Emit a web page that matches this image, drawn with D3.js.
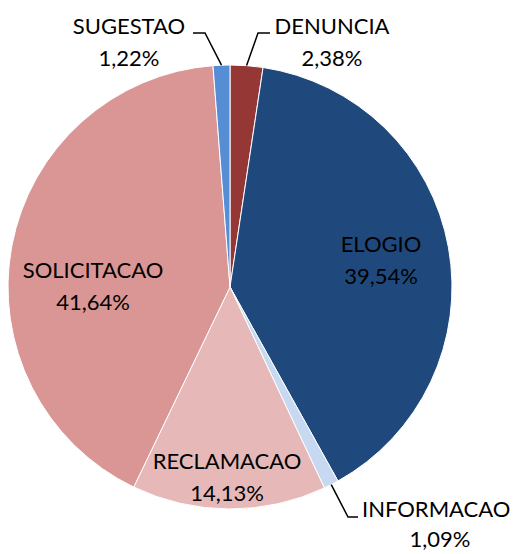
<!DOCTYPE html>
<html>
<head>
<meta charset="utf-8">
<script src="https://cdn.jsdelivr.net/npm/d3@7"></script>
<style>
  body { margin: 0; background: #fff; }
  svg text { font-family: Lato, "Open Sans", sans-serif; fill: #000; }
</style>
</head>
<body>
<div id="chart"></div>
<script>
(function () {

  // data
  var categories = ["DENUNCIA", "ELOGIO", "INFORMACAO", "RECLAMACAO", "SOLICITACAO", "SUGESTAO"];
  var values = [2.38, 39.54, 1.09, 14.13, 41.64, 1.22];
  var valueLabels = ["2,38%", "39,54%", "1,09%", "14,13%", "41,64%", "1,22%"];
  var colors = ["#953735", "#1F497D", "#C6D9F1", "#E6B9B8", "#D99694", "#558ED5"];

  var w = 517, h = 554;
  var cx = 230, cy = 287, r = 222;
  var lineGap = 32;

  // label layout (text centre, and elbow/end of leader lines for outside labels)
  var layout = {
    "DENUNCIA":    { x: 332, y: 26, elbow: [258, 33], end: [270, 33] },
    "ELOGIO":      { x: 381, y: 244 },
    "INFORMACAO":  { x: 440, y: 509, gap: 30, elbow: [348, 517], end: [358, 517], anchor: "start", tx: 362 },
    "RECLAMACAO":  { x: 227, y: 461 },
    "SOLICITACAO": { x: 93,  y: 270 },
    "SUGESTAO":    { x: 129, y: 26, elbow: [205, 33], end: [193, 33] }
  };

  var data = categories.map(function (c, i) {
    return { name: c, value: values[i], label: valueLabels[i], color: colors[i] };
  });

  var svg = d3.select("#chart")
    .append("svg")
    .attr("width", w)
    .attr("height", h);

  var pie = d3.pie()
    .sort(null)
    .value(function (d) { return d.value; });

  var arc = d3.arc()
    .innerRadius(0)
    .outerRadius(r);

  var arcs = pie(data);

  var g = svg.append("g")
    .attr("transform", "translate(" + cx + "," + cy + ")");

  g.selectAll("path")
    .data(arcs)
    .enter()
    .append("path")
    .attr("d", arc)
    .style("fill", function (d) { return d.data.color; })
    .style("stroke", "#fff")
    .style("stroke-width", 1);

  // leader lines
  arcs.forEach(function (d) {
    var l = layout[d.data.name];
    if (!l.elbow) return;
    var a = (d.startAngle + d.endAngle) / 2;
    var px = cx + Math.sin(a) * r, py = cy - Math.cos(a) * r;
    svg.append("path")
      .attr("d", "M" + px + "," + py + "L" + l.elbow[0] + "," + l.elbow[1] + "L" + l.end[0] + "," + l.end[1])
      .style("fill", "none")
      .style("stroke", "#000")
      .style("stroke-width", 1.5);
  });

  // labels
  arcs.forEach(function (d) {
    var l = layout[d.data.name];
    svg.append("text")
      .attr("x", l.tx || l.x)
      .attr("y", l.y)
      .attr("dy", "0.36em")
      .attr("text-anchor", l.anchor || "middle")
      .style("font-size", "22px")
      .text(d.data.name);
    svg.append("text")
      .attr("x", l.x)
      .attr("y", l.y + (l.gap || lineGap))
      .attr("dy", "0.36em")
      .attr("text-anchor", "middle")
      .style("font-size", "22px")
      .text(d.data.label);
  });

})();
</script>
</body>
</html>
